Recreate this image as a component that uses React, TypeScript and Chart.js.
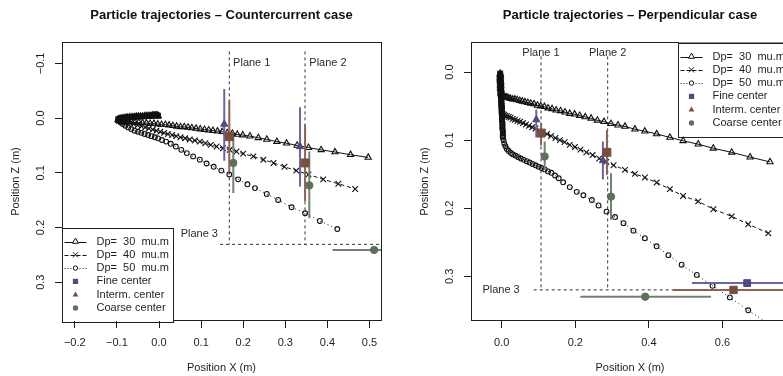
import React, { useEffect, useRef } from "react";
import { Chart, registerables } from "chart.js";
Chart.register(...registerables);

const FONT = '"Liberation Sans", Arial, Helvetica, sans-serif';
const INK = "#1e1e1e";

// ---------------- Left panel: countercurrent ----------------
const L_TITLE = "Particle trajectories \u2013 Countercurrent case";
const L_X_TICKS = [-0.2, -0.1, 0.0, 0.1, 0.2, 0.3, 0.4, 0.5];
const L_Z_TICKS = [-0.1, 0.0, 0.1, 0.2, 0.3];
const L_X_RANGE = [-0.2304, 0.5273];
const L_Z_RANGE = [-0.1391, 0.3709];

// outgoing leg (particles injected against the flow), shared by all sizes
const L_OUT_X = [-0.002, -0.004, -0.006, -0.008, -0.010, -0.013, -0.016, -0.019, -0.022, -0.026, -0.030, -0.034, -0.039, -0.044, -0.049, -0.054, -0.059, -0.064, -0.069, -0.074, -0.078, -0.082, -0.086, -0.089, -0.092, -0.094, -0.096, -0.097];
const L_OUT_Z = [-0.004, -0.005, -0.005, -0.005, -0.005, -0.005, -0.005, -0.004, -0.004, -0.004, -0.004, -0.004, -0.003, -0.003, -0.003, -0.003, -0.002, -0.002, -0.002, -0.001, -0.001, 0.000, 0.000, 0.001, 0.001, 0.002, 0.002, 0.003];

const L30_X = [-0.095, -0.091, -0.086, -0.080, -0.073, -0.065, -0.057, -0.048, -0.039, -0.030, -0.021, -0.012, -0.003, 0.006, 0.015, 0.024, 0.033, 0.042, 0.051, 0.060, 0.069, 0.078, 0.088, 0.098, 0.108, 0.118, 0.128, 0.139, 0.150, 0.162, 0.174, 0.186, 0.199, 0.216, 0.236, 0.256, 0.280, 0.303, 0.328, 0.355, 0.385, 0.418, 0.455, 0.497];
const L30_Z = [0.004, 0.005, 0.006, 0.006, 0.007, 0.007, 0.008, 0.008, 0.009, 0.009, 0.010, 0.010, 0.011, 0.012, 0.012, 0.013, 0.014, 0.015, 0.016, 0.016, 0.017, 0.018, 0.019, 0.020, 0.021, 0.022, 0.023, 0.024, 0.025, 0.027, 0.028, 0.030, 0.031, 0.033, 0.036, 0.039, 0.043, 0.046, 0.050, 0.054, 0.058, 0.062, 0.067, 0.072];

const L40_X = [-0.095, -0.090, -0.084, -0.077, -0.069, -0.060, -0.051, -0.042, -0.033, -0.024, -0.015, -0.006, 0.003, 0.012, 0.021, 0.031, 0.041, 0.051, 0.062, 0.073, 0.085, 0.097, 0.110, 0.123, 0.137, 0.152, 0.168, 0.184, 0.200, 0.224, 0.248, 0.272, 0.298, 0.326, 0.355, 0.390, 0.426, 0.466];
const L40_Z = [0.005, 0.006, 0.007, 0.008, 0.009, 0.011, 0.013, 0.015, 0.017, 0.019, 0.021, 0.023, 0.025, 0.027, 0.029, 0.031, 0.033, 0.035, 0.037, 0.039, 0.041, 0.043, 0.046, 0.049, 0.052, 0.055, 0.058, 0.061, 0.065, 0.070, 0.076, 0.082, 0.089, 0.096, 0.103, 0.112, 0.120, 0.1295];

const L50_X = [-0.095, -0.091, -0.086, -0.080, -0.073, -0.066, -0.058, -0.050, -0.042, -0.034, -0.026, -0.018, -0.010, -0.002, 0.007, 0.017, 0.028, 0.040, 0.053, 0.066, 0.081, 0.097, 0.113, 0.130, 0.148, 0.167, 0.188, 0.210, 0.228, 0.256, 0.283, 0.315, 0.347, 0.382, 0.4235];
const L50_Z = [0.005, 0.008, 0.011, 0.014, 0.017, 0.020, 0.023, 0.025, 0.027, 0.029, 0.031, 0.033, 0.035, 0.037, 0.040, 0.043, 0.047, 0.052, 0.058, 0.064, 0.070, 0.076, 0.083, 0.089, 0.096, 0.103, 0.112, 0.121, 0.128, 0.1387, 0.1496, 0.163, 0.174, 0.188, 0.2027];

const L_PLANE_X = [0.167, 0.3468];
const L_PLANE_TOP = -0.122;
const L_PLANE3_Z = 0.2308;
const L_PLANE3_X = [0.145, 0.6];

const L_FINE_X = [0.155, 0.335];
const L_FINE_Z = [0.011, 0.052];
const L_FINE_LO = [-0.053, -0.020];
const L_FINE_HI = [0.078, 0.125];
const L_INT_X = [0.167, 0.347];
const L_INT_Z = [0.034, 0.082];
const L_INT_LO = [-0.032, 0.012];
const L_INT_HI = [0.098, 0.152];
const L_COARSE_X = [0.1765, 0.357];
const L_COARSE_Z = [0.082, 0.123];
const L_COARSE_LO = [0.034, 0.061];
const L_COARSE_HI = [0.137, 0.183];
const L_P3_X = [0.511];
const L_P3_Z = [0.241];
const L_P3_LO = [0.412];
const L_P3_HI = [0.62];

const L_LABELS = ["Plane 1", "Plane 2", "Plane 3"];
const L_LABEL_X = [0.176, 0.357, 0.140];
const L_LABEL_Z = [-0.1, -0.1, 0.212];
const L_LABEL_ALIGN = ["left", "left", "right"];

// ---------------- Right panel: perpendicular ----------------
const R_TITLE = "Particle trajectories \u2013 Perpendicular case";
const R_X_TICKS = [0.0, 0.2, 0.4, 0.6];
const R_Z_TICKS = [0.0, 0.1, 0.2, 0.3];
const R_X_RANGE = [-0.0834, 0.7807];
const R_Z_RANGE = [-0.0441, 0.3657];

// downward injection leg, shared
const R_DOWN_X = [-0.004, -0.004, -0.004, -0.004, -0.004, -0.004, -0.003, -0.003, -0.003, -0.003, -0.003, -0.003, -0.002, -0.002, -0.002, -0.002, -0.002, -0.002, -0.001, -0.001, -0.001, -0.001, -0.001, -0.001, 0.000, 0.000, 0.000, 0.000, 0.000, 0.000, 0.001, 0.001, 0.001, 0.001, 0.001, 0.001, 0.002, 0.002, 0.002, 0.002, 0.002, 0.002, 0.003, 0.003, 0.003, 0.003, 0.003, 0.003];
const R_DOWN_Z = [0.002, 0.004, 0.006, 0.008, 0.010, 0.012, 0.014, 0.016, 0.018, 0.020, 0.022, 0.024, 0.026, 0.028, 0.030, 0.032, 0.034, 0.036, 0.038, 0.040, 0.042, 0.044, 0.046, 0.048, 0.050, 0.052, 0.054, 0.056, 0.058, 0.060, 0.062, 0.064, 0.066, 0.068, 0.070, 0.072, 0.074, 0.076, 0.078, 0.080, 0.082, 0.084, 0.086, 0.088, 0.090, 0.092, 0.094, 0.096];

const R30_X = [0.002, 0.006, 0.010, 0.014, 0.019, 0.024, 0.030, 0.036, 0.042, 0.049, 0.056, 0.063, 0.071, 0.079, 0.088, 0.097, 0.106, 0.116, 0.126, 0.137, 0.148, 0.160, 0.172, 0.185, 0.198, 0.212, 0.227, 0.243, 0.260, 0.278, 0.297, 0.316, 0.335, 0.362, 0.389, 0.421, 0.457, 0.493, 0.534, 0.575, 0.625, 0.675, 0.729];
const R30_Z = [0.034, 0.036, 0.037, 0.037, 0.038, 0.039, 0.040, 0.040, 0.041, 0.042, 0.043, 0.044, 0.045, 0.046, 0.047, 0.049, 0.050, 0.051, 0.053, 0.054, 0.056, 0.057, 0.059, 0.061, 0.062, 0.064, 0.066, 0.068, 0.071, 0.073, 0.076, 0.078, 0.080, 0.084, 0.087, 0.091, 0.096, 0.101, 0.106, 0.112, 0.118, 0.125, 0.132];

const R40_X = [0.003, 0.006, 0.010, 0.014, 0.019, 0.024, 0.030, 0.036, 0.043, 0.050, 0.058, 0.066, 0.074, 0.083, 0.092, 0.102, 0.112, 0.123, 0.134, 0.146, 0.158, 0.171, 0.185, 0.199, 0.214, 0.230, 0.247, 0.265, 0.284, 0.304, 0.335, 0.362, 0.389, 0.421, 0.457, 0.493, 0.534, 0.575, 0.625, 0.670, 0.7245];
const R40_Z = [0.062, 0.063, 0.064, 0.065, 0.066, 0.067, 0.069, 0.070, 0.072, 0.073, 0.075, 0.077, 0.079, 0.081, 0.083, 0.086, 0.088, 0.091, 0.094, 0.097, 0.100, 0.103, 0.107, 0.110, 0.114, 0.118, 0.122, 0.127, 0.132, 0.137, 0.1437, 0.1496, 0.155, 0.1624, 0.172, 0.182, 0.190, 0.2015, 0.212, 0.2235, 0.2368];

const R50_X = [0.005, 0.007, 0.010, 0.014, 0.019, 0.025, 0.031, 0.038, 0.045, 0.052, 0.060, 0.068, 0.076, 0.084, 0.092, 0.100, 0.108, 0.117, 0.126, 0.135, 0.145, 0.155, 0.167, 0.185, 0.204, 0.222, 0.245, 0.263, 0.285, 0.308, 0.331, 0.358, 0.389, 0.421, 0.453, 0.489, 0.530, 0.573, 0.620, 0.670, 0.722];
const R50_Z = [0.100, 0.105, 0.109, 0.113, 0.116, 0.119, 0.121, 0.123, 0.125, 0.127, 0.129, 0.131, 0.133, 0.135, 0.137, 0.139, 0.141, 0.143, 0.146, 0.148, 0.152, 0.156, 0.162, 0.169, 0.176, 0.181, 0.188, 0.196, 0.205, 0.213, 0.222, 0.233, 0.244, 0.256, 0.269, 0.283, 0.298, 0.314, 0.331, 0.350, 0.369];

const R_PLANE_X = [0.1068, 0.288];
const R_PLANE_TOP = -0.023;
const R_PLANE3_Z = 0.32;
const R_PLANE3_X = [0.087, 0.9];

const R_FINE_X = [0.094, 0.275];
const R_FINE_Z = [0.070, 0.130];
const R_FINE_LO = [0.055, 0.102];
const R_FINE_HI = [0.096, 0.158];
const R_INT_X = [0.107, 0.286];
const R_INT_Z = [0.0897, 0.118];
const R_INT_LO = [0.075, 0.085];
const R_INT_HI = [0.108, 0.151];
const R_COARSE_X = [0.1168, 0.297];
const R_COARSE_Z = [0.124, 0.183];
const R_COARSE_LO = [0.102, 0.1485];
const R_COARSE_HI = [0.144, 0.217];
// plane 3 centres: fine, interm, coarse (horizontal spread)
const R_P3_X = [0.667, 0.630, 0.390];
const R_P3_Z = [0.310, 0.320, 0.330];
const R_P3_LO = [0.517, 0.466, 0.2137];
const R_P3_HI = [0.9, 0.9, 0.569];

const R_LABELS = ["Plane 1", "Plane 2", "Plane 3"];
const R_LABEL_X = [0.1068, 0.288, 0.049];
const R_LABEL_Z = [-0.028, -0.028, 0.32];
const R_LABEL_ALIGN = ["center", "center", "right"];

const LEGEND_TEXT = ["Dp=  30  mu.m", "Dp=  40  mu.m", "Dp=  50  mu.m", "Fine center", "Interm. center", "Coarse center"];

// ---------------- styles ----------------
const PURPLE = "#4f4a82";
const PURPLE_BAR = "#6c66a0";
const BROWN = "#7a4e3f";
const BROWN_BAR = "#8c6354";
const GREEN = "#5c715c";
const GREEN_BAR = "#6f836e";
const PLANE_COLOR = "#333333";

const pts = (xs: number[], zs: number[]) => xs.map((x, i) => ({ x, y: zs[i] }));

function traj(xs: number[], zs: number[], dash: number[], style: string, radius: number) {
  return {
    data: pts(xs, zs),
    showLine: true,
    tension: 0,
    borderColor: "#111",
    borderWidth: 1,
    borderDash: dash,
    pointStyle: style,
    pointRadius: radius,
    pointBorderColor: "#111",
    pointBackgroundColor: "rgba(0,0,0,0)",
    pointBorderWidth: 1.1,
    order: 2,
    clip: 0,
  };
}
function segment(a: { x: number; y: number }, b: { x: number; y: number }, color: string, width: number, dash: number[], order: number) {
  return {
    data: [a, b],
    showLine: true,
    borderColor: color,
    borderWidth: width,
    borderDash: dash,
    pointRadius: 0,
    order,
    clip: 0,
  };
}
function vbars(xs: number[], lo: number[], hi: number[], color: string) {
  return xs.map((x, i) => segment({ x, y: lo[i] }, { x, y: hi[i] }, color, 2, [], 1));
}
function hbars(zs: number[], lo: number[], hi: number[], colors: string[]) {
  return zs.map((z, i) => segment({ x: lo[i], y: z }, { x: hi[i], y: z }, colors[i], 2, [], 1));
}
function centers(xs: number[], zs: number[], styles: string[], radii: number[], colors: string[]) {
  return {
    data: pts(xs, zs),
    showLine: false,
    pointStyle: styles,
    pointRadius: radii,
    pointBackgroundColor: colors,
    pointBorderColor: colors,
    pointBorderWidth: 1,
    order: 0,
    clip: 0,
  };
}

const LEFT_DATASETS = [
  traj([...L_OUT_X, ...L30_X], [...L_OUT_Z, ...L30_Z], [], "triangle", 3.6),
  traj([...L_OUT_X, ...L40_X], [...L_OUT_Z, ...L40_Z], [4, 3], "crossRot", 4),
  traj([...L_OUT_X, ...L50_X], [...L_OUT_Z, ...L50_Z], [1, 3], "circle", 2.4),
  ...L_PLANE_X.map((x) => segment({ x, y: L_PLANE_TOP }, { x, y: L_PLANE3_Z }, PLANE_COLOR, 1, [3, 3], 3)),
  segment({ x: L_PLANE3_X[0], y: L_PLANE3_Z }, { x: L_PLANE3_X[1], y: L_PLANE3_Z }, PLANE_COLOR, 1, [3, 3], 3),
  ...vbars(L_FINE_X, L_FINE_LO, L_FINE_HI, PURPLE_BAR),
  ...vbars(L_INT_X, L_INT_LO, L_INT_HI, BROWN_BAR),
  ...vbars(L_COARSE_X, L_COARSE_LO, L_COARSE_HI, GREEN_BAR),
  ...hbars(L_P3_Z, L_P3_LO, L_P3_HI, [GREEN_BAR]),
  centers(L_FINE_X, L_FINE_Z, ["triangle", "triangle"], [4.2, 4.2], [PURPLE, PURPLE]),
  centers(L_INT_X, L_INT_Z, ["rect", "rect"], [5.6, 5.6], [BROWN, BROWN]),
  centers(L_COARSE_X, L_COARSE_Z, ["circle", "circle"], [3.7, 3.7], [GREEN, GREEN]),
  centers(L_P3_X, L_P3_Z, ["circle"], [3.7], [GREEN]),
];

const RIGHT_DATASETS = [
  traj([...R_DOWN_X.slice(0, 16), ...R30_X], [...R_DOWN_Z.slice(0, 16), ...R30_Z], [], "triangle", 3.6),
  traj([...R_DOWN_X.slice(0, 30), ...R40_X], [...R_DOWN_Z.slice(0, 30), ...R40_Z], [4, 3], "crossRot", 4),
  traj([...R_DOWN_X, ...R50_X], [...R_DOWN_Z, ...R50_Z], [1, 3], "circle", 2.4),
  ...R_PLANE_X.map((x) => segment({ x, y: R_PLANE_TOP }, { x, y: R_PLANE3_Z }, PLANE_COLOR, 1, [3, 3], 3)),
  segment({ x: R_PLANE3_X[0], y: R_PLANE3_Z }, { x: R_PLANE3_X[1], y: R_PLANE3_Z }, PLANE_COLOR, 1, [3, 3], 3),
  ...vbars(R_FINE_X, R_FINE_LO, R_FINE_HI, PURPLE_BAR),
  ...vbars(R_INT_X, R_INT_LO, R_INT_HI, BROWN_BAR),
  ...vbars(R_COARSE_X, R_COARSE_LO, R_COARSE_HI, GREEN_BAR),
  ...hbars(R_P3_Z, R_P3_LO, R_P3_HI, [PURPLE_BAR, BROWN_BAR, GREEN_BAR]),
  centers(R_FINE_X, R_FINE_Z, ["triangle", "triangle"], [4.2, 4.2], [PURPLE, PURPLE]),
  centers(R_INT_X, R_INT_Z, ["rect", "rect"], [5.6, 5.6], [BROWN, BROWN]),
  centers(R_COARSE_X, R_COARSE_Z, ["circle", "circle"], [3.7, 3.7], [GREEN, GREEN]),
  centers(R_P3_X, R_P3_Z, ["rect", "rect", "circle"], [4.8, 5.2, 3.7], [PURPLE, BROWN, GREEN]),
];

// ---------------- drawing helpers ----------------
const fmt = (v: number) => {
  const s = Math.abs(v) < 1e-9 ? "0.0" : v.toFixed(1);
  return s.replace("-", "\u2212");
};

function marker(ctx: CanvasRenderingContext2D, kind: string, x: number, y: number, color: string) {
  ctx.save();
  ctx.setLineDash([]);
  ctx.lineWidth = 1;
  ctx.strokeStyle = color;
  ctx.fillStyle = color;
  ctx.beginPath();
  if (kind === "otri") {
    ctx.moveTo(x, y - 3.4);
    ctx.lineTo(x + 3, y + 1.8);
    ctx.lineTo(x - 3, y + 1.8);
    ctx.closePath();
    ctx.fillStyle = "#fff";
    ctx.fill();
    ctx.stroke();
  } else if (kind === "x") {
    ctx.moveTo(x - 2.6, y - 2.6);
    ctx.lineTo(x + 2.6, y + 2.6);
    ctx.moveTo(x + 2.6, y - 2.6);
    ctx.lineTo(x - 2.6, y + 2.6);
    ctx.stroke();
  } else if (kind === "ocircle") {
    ctx.arc(x, y, 2.2, 0, Math.PI * 2);
    ctx.fillStyle = "#fff";
    ctx.fill();
    ctx.stroke();
  } else if (kind === "square") {
    ctx.fillRect(x - 2.6, y - 2.6, 5.2, 5.2);
  } else if (kind === "tri") {
    ctx.moveTo(x, y - 3.2);
    ctx.lineTo(x + 2.9, y + 1.9);
    ctx.lineTo(x - 2.9, y + 1.9);
    ctx.closePath();
    ctx.fill();
  } else if (kind === "circle") {
    ctx.arc(x, y, 2.7, 0, Math.PI * 2);
    ctx.fill();
  }
  ctx.restore();
}

type PanelCfg = {
  title: string;
  xTicks: number[];
  zTicks: number[];
  xRange: number[];
  zRange: number[];
  datasets: any[];
  labels: string[];
  labelX: number[];
  labelZ: number[];
  labelAlign: string[];
  legendCorner: "bl" | "tr";
  canvasW: number;
  yAxisW: number;
  padRight: number;
  left: number;
};

function decorPlugin(cfg: PanelCfg) {
  return {
    id: "decor",
    afterDraw(chart: any) {
      const ctx: CanvasRenderingContext2D = chart.ctx;
      const a = chart.chartArea;
      const xs = chart.scales.x;
      const ys = chart.scales.y;
      ctx.save();
      // plot box
      ctx.strokeStyle = INK;
      ctx.lineWidth = 1;
      ctx.strokeRect(Math.round(a.left) + 0.5, Math.round(a.top) + 0.5, Math.round(a.right - a.left), Math.round(a.bottom - a.top) - 1);
      // title
      ctx.fillStyle = "#111";
      ctx.textAlign = "center";
      ctx.textBaseline = "middle";
      ctx.font = `bold 13px ${FONT}`;
      ctx.fillText(cfg.title, (a.left + a.right) / 2, 15);
      // tick labels
      ctx.fillStyle = INK;
      ctx.font = `11px ${FONT}`;
      cfg.xTicks.forEach((v) => ctx.fillText(fmt(v), xs.getPixelForValue(v), a.bottom + 21.5));
      cfg.zTicks.forEach((v) => {
        ctx.save();
        ctx.translate(a.left - 21.5, ys.getPixelForValue(v));
        ctx.rotate(-Math.PI / 2);
        ctx.fillText(fmt(v), 0, 0);
        ctx.restore();
      });
      // axis titles
      ctx.fillText("Position X (m)", (a.left + a.right) / 2, a.bottom + 47);
      ctx.save();
      ctx.translate(a.left - 46, (a.top + a.bottom) / 2);
      ctx.rotate(-Math.PI / 2);
      ctx.fillText("Position Z (m)", 0, 0);
      ctx.restore();
      // plane labels
      ctx.fillStyle = "#2a2a2a";
      cfg.labels.forEach((t, i) => {
        ctx.textAlign = cfg.labelAlign[i] as CanvasTextAlign;
        ctx.fillText(t, xs.getPixelForValue(cfg.labelX[i]), ys.getPixelForValue(cfg.labelZ[i]));
      });
      // legend
      const w = 111;
      const h = 93.5;
      const bx = cfg.legendCorner === "bl" ? Math.round(a.left) + 0.5 : Math.round(a.right) - w + 0.5;
      const by = cfg.legendCorner === "bl" ? Math.round(a.bottom) - h : Math.round(a.top) + 0.5;
      ctx.fillStyle = "#fff";
      ctx.fillRect(bx, by, w, h);
      ctx.strokeStyle = INK;
      ctx.lineWidth = 1;
      ctx.strokeRect(bx, Math.round(by) + 0.5, w, Math.round(h));
      const kinds = ["otri", "x", "ocircle", "square", "tri", "circle"];
      const colors = ["#111", "#111", "#111", PURPLE, BROWN, GREEN];
      const dashes = [[], [4, 2], [1, 2]];
      LEGEND_TEXT.forEach((t, i) => {
        const yy = by + 14 + i * 13.3;
        if (i < 3) {
          ctx.save();
          ctx.strokeStyle = "#111";
          ctx.lineWidth = 1;
          ctx.setLineDash(dashes[i]);
          ctx.beginPath();
          ctx.moveTo(bx + 2, Math.round(yy) + 0.5);
          ctx.lineTo(bx + 24, Math.round(yy) + 0.5);
          ctx.stroke();
          ctx.restore();
        }
        marker(ctx, kinds[i], bx + 13, yy, colors[i]);
        ctx.fillStyle = INK;
        ctx.textAlign = "left";
        ctx.textBaseline = "middle";
        ctx.font = `11px ${FONT}`;
        ctx.fillText(t, bx + 34, yy);
      });
      ctx.restore();
    },
  };
}

function Panel({ cfg }: { cfg: PanelCfg }) {
  const ref = useRef<HTMLCanvasElement>(null);
  useEffect(() => {
    const chart = new Chart(ref.current as HTMLCanvasElement, {
      type: "scatter",
      data: { datasets: cfg.datasets },
      options: {
        animation: false,
        responsive: false,
        devicePixelRatio: 1,
        events: [],
        layout: { padding: { top: 42, right: cfg.padRight, left: 0, bottom: 0 } },
        plugins: { legend: { display: false }, tooltip: { enabled: false }, title: { display: false } },
        scales: {
          x: {
            type: "linear",
            min: cfg.xRange[0],
            max: cfg.xRange[1],
            afterBuildTicks: (s: any) => {
              s.ticks = cfg.xTicks.map((v) => ({ value: v }));
            },
            afterFit: (s: any) => {
              s.height = 55;
            },
            ticks: { display: false },
            grid: { drawOnChartArea: false, drawTicks: true, tickLength: 7, color: INK },
            border: { display: false },
          },
          y: {
            type: "linear",
            reverse: true,
            min: cfg.zRange[0],
            max: cfg.zRange[1],
            afterBuildTicks: (s: any) => {
              s.ticks = cfg.zTicks.map((v) => ({ value: v }));
            },
            afterFit: (s: any) => {
              s.width = cfg.yAxisW;
            },
            ticks: { display: false },
            grid: { drawOnChartArea: false, drawTicks: true, tickLength: 7, color: INK },
            border: { display: false },
          },
        },
      } as any,
      plugins: [decorPlugin(cfg)],
    });
    return () => chart.destroy();
  }, [cfg]);
  return (
    <canvas
      ref={ref}
      width={cfg.canvasW}
      height={376}
      style={{ position: "absolute", left: cfg.left, top: 0, display: "block" }}
    />
  );
}

const LEFT_CFG: PanelCfg = {
  title: L_TITLE,
  xTicks: L_X_TICKS,
  zTicks: L_Z_TICKS,
  xRange: L_X_RANGE,
  zRange: L_Z_RANGE,
  datasets: LEFT_DATASETS,
  labels: L_LABELS,
  labelX: L_LABEL_X,
  labelZ: L_LABEL_Z,
  labelAlign: L_LABEL_ALIGN,
  legendCorner: "bl",
  canvasW: 392,
  yAxisW: 62,
  padRight: 11,
  left: 0,
};

const RIGHT_CFG: PanelCfg = {
  title: R_TITLE,
  xTicks: R_X_TICKS,
  zTicks: R_Z_TICKS,
  xRange: R_X_RANGE,
  zRange: R_Z_RANGE,
  datasets: RIGHT_DATASETS,
  labels: R_LABELS,
  labelX: R_LABEL_X,
  labelZ: R_LABEL_Z,
  labelAlign: R_LABEL_ALIGN,
  legendCorner: "tr",
  canvasW: 420,
  yAxisW: 79,
  padRight: 23,
  left: 392,
};

export default function App() {
  return (
    <div
      style={{
        position: "fixed",
        left: 0,
        top: 0,
        width: 783,
        height: 376,
        overflow: "hidden",
        background: "#fff",
      }}
    >
      <Panel cfg={LEFT_CFG} />
      <Panel cfg={RIGHT_CFG} />
    </div>
  );
}
